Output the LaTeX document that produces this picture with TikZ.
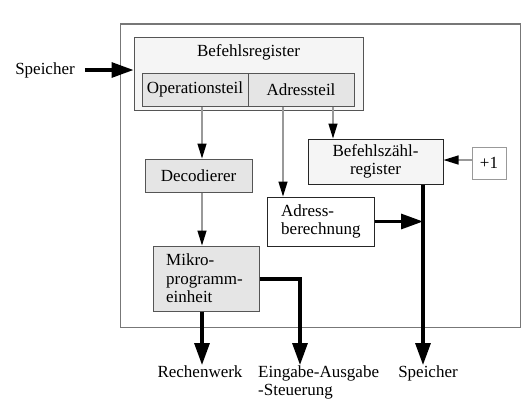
\documentclass[tikz,border=0pt]{standalone}
\usepackage{fontspec}
\setmainfont{Liberation Serif}
\usetikzlibrary{arrows.meta,positioning}
\definecolor{lg}{HTML}{F5F5F5}
\definecolor{mg}{HTML}{E5E5E5}
\definecolor{bd}{HTML}{555555}
\definecolor{ln}{HTML}{999999}
\tikzset{
  box/.style={draw=bd, line width=1pt, rectangle, inner sep=0pt, font=\fontsize{17}{18.5}\selectfont},
  thinarrow/.style={draw=ln, line width=1.3pt, -{Triangle[length=15pt,width=9pt,color=black,fill=black]}},
  thickarrow/.style={draw=black, line width=3.2pt, -{Triangle[length=22pt,width=15pt,color=black,fill=black]}},
  lbl/.style={inner sep=0pt, font=\fontsize{17}{18.5}\selectfont},
}
\begin{document}
\begin{tikzpicture}[x=1pt,y=-1pt]
\useasboundingbox (0,0) rectangle (530,416);
% outer frame
\draw[draw=bd!80, line width=1.1pt] (120.5,24) rectangle (520.5,327.5);

% Befehlsregister
\node[box, fill=lg, minimum width=229pt, minimum height=73pt] (breg) at (248.5,73.5) {};
\node[lbl] (bregt) at (248.5,52) {Befehlsregister};
\node[box, fill=mg, minimum width=106pt, minimum height=33pt] (op) at (195,89.5) {Operationsteil};
\node[box, fill=mg, minimum width=106pt, minimum height=33pt] (ad) at (301,89.5) {Adressteil};

% other boxes
\node[box, fill=mg, minimum width=107pt, minimum height=33pt] (dec) at (198.5,175.5) {Decodierer};
\node[box, draw=black!85, fill=lg, minimum width=135pt, minimum height=45pt, align=center] (bzr) at (375.5,161.5) {Befehlszähl-\\register};
\node[box, draw=black!85, fill=white, minimum width=107pt, minimum height=49pt] (adr) at (320.5,221.5) {};
\node[lbl, anchor=west, align=left] (adrt) at (281,221.5) {Adress-\\berechnung};
\node[box, fill=mg, minimum width=106pt, minimum height=65pt] (mik) at (206,278.5) {};
\node[lbl, anchor=west, align=left] (mikt) at (166,278.5) {Mikro-\\programm-\\einheit};
\node[box, draw=ln, fill=white, minimum width=34pt, minimum height=32pt] (p1) at (489,163) {+1};

% outside labels
\node[lbl] (sin) at (45,70) {Speicher};
\node[lbl, anchor=north] (rw) at (200,365) {Rechenwerk};
\node[lbl, anchor=north west, align=left] (eas) at (258,365) {Eingabe-Ausgabe\\-Steuerung};
\node[lbl, anchor=north] (sout) at (428,365) {Speicher};

% connectors
\draw[thickarrow] ([xshift=10pt]sin.east) -- (sin.east -| breg.west);
\draw[thinarrow] ([xshift=7pt]op.south) -- ([xshift=7pt]op.south |- dec.north);
\draw[thinarrow] ([xshift=-18pt]ad.south) -- ([xshift=-18pt]ad.south |- adr.north);
\draw[thinarrow] ([xshift=32pt]ad.south) -- ([xshift=32pt]ad.south |- bzr.north);
\draw[thinarrow] ([xshift=3.5pt]dec.south) -- ([xshift=3.5pt]dec.south |- mik.north);
\draw[thinarrow] ([yshift=3pt]p1.west) -- ([yshift=3pt]p1.west -| bzr.east);
\draw[thickarrow] ([xshift=47.5pt]bzr.south) -- ([xshift=47.5pt]bzr.south |- sout.north);
\coordinate (jn) at ([xshift=47.5pt]bzr.south |- adr.east);
\draw[thickarrow] (adr.east) -- (jn);
\draw[thickarrow] ([xshift=-4pt]mik.south) -- ([xshift=-4pt]mik.south |- rw.north);
\coordinate (bend) at (300,279);
\draw[thickarrow] (mik.east |- bend) -- (bend) -- (bend |- eas.north);
\end{tikzpicture}
\end{document}
